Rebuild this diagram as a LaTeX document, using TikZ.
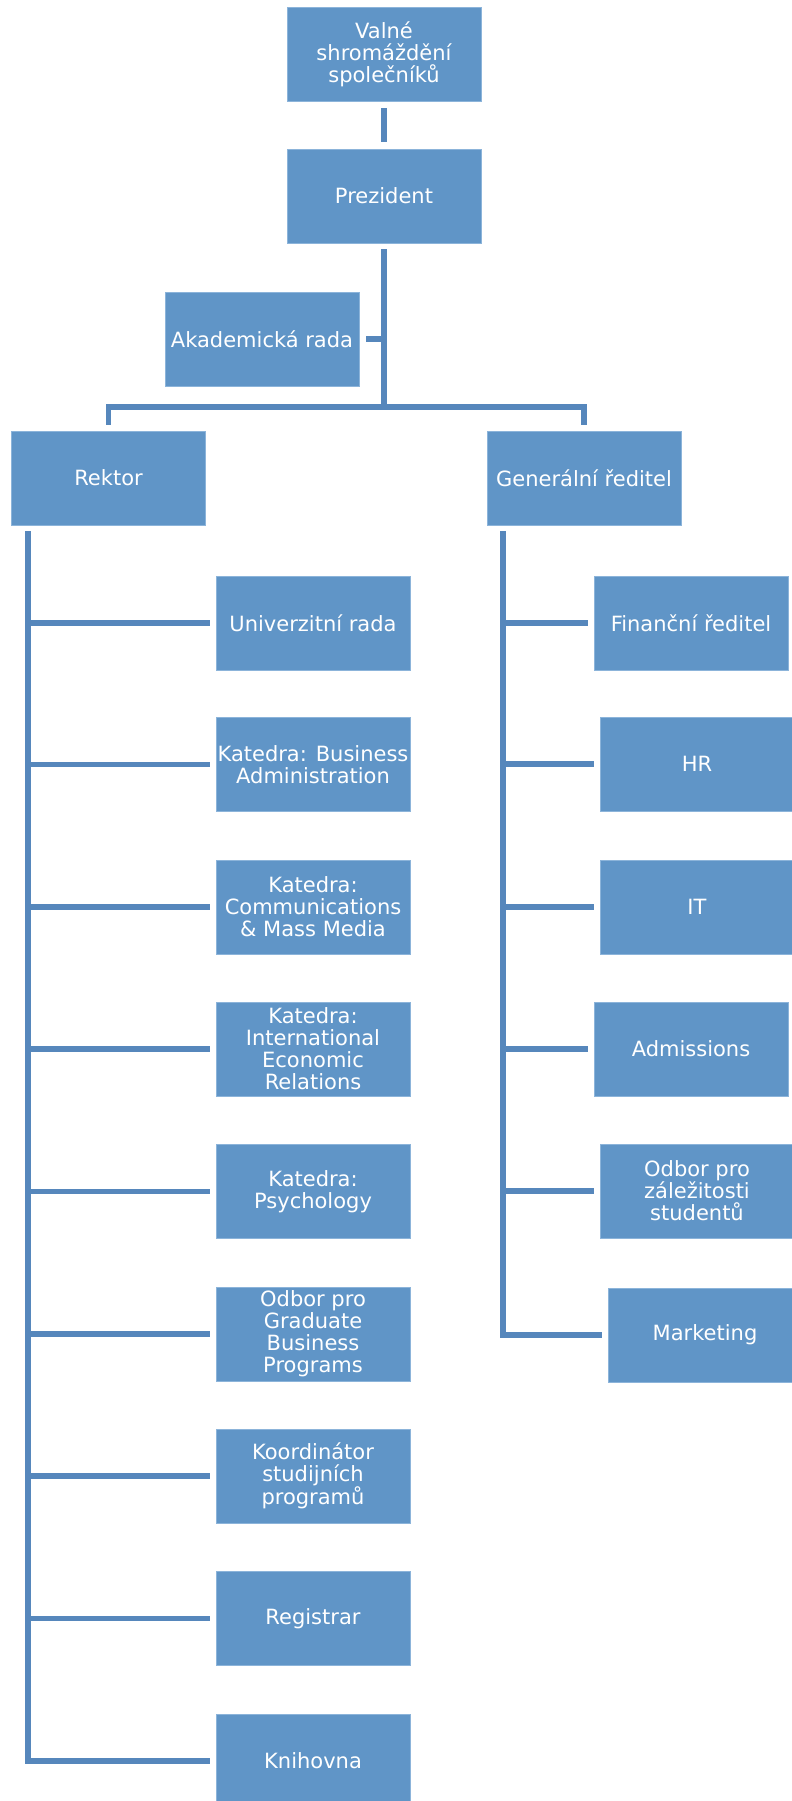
\documentclass[tikz,border=0pt]{standalone}
\usepackage{fontspec}
\setmainfont{DejaVu Sans}
\usepackage{xcolor}
\usepackage{tikz}
\usetikzlibrary{shapes,arrows,positioning,fit}
\definecolor{boxblue}{RGB}{96,149,199}
\definecolor{boxedge}{RGB}{140,180,218}
\definecolor{lineblue}{RGB}{86,135,188}
\tikzstyle{conn} = [draw=lineblue, line width=5.5pt]

\begin{document}
\begin{tikzpicture}[x=1pt,y=-1pt]
    \tikzstyle{unit}=[rectangle, fill=boxblue, draw=boxedge, line width=0.8pt, text=white, minimum width=194pt, minimum height=94pt, inner sep=0pt, align=center, font=\fontsize{21}{22}\selectfont]

    \useasboundingbox[fill=white] (0,0) rectangle (792,1801);

    % top
    \node[unit] (valne) at (384,54) {Valné\\shromáždění\\společníků};
    \node[unit] (prez) at (384,196) {Prezident};
    \node[unit] (akad) at (262,339) {Akademická rada};
    \node[unit] (rektor) at (108.5,478) {Rektor};
    \node[unit] (gen) at (584,478) {Generální ředitel};

    % rektor side
    \node[unit] (univ) at (313,623) {Univerzitní rada};
    \node[unit] (kba) at (313,764.5) {Katedra: Business\\Administration};
    \node[unit] (kcmm) at (313,907) {Katedra:\\Communications\\\& Mass Media};
    \node[unit] (kier) at (313,1049) {Katedra:\\International\\Economic\\Relations};
    \node[unit] (kpsy) at (313,1191.5) {Katedra:\\Psychology};
    \node[unit] (ogbp) at (313,1334) {Odbor pro\\Graduate\\Business\\Programs};
    \node[unit] (koord) at (313,1476) {Koordinátor\\studijních\\programů};
    \node[unit] (reg) at (313,1618.5) {Registrar};
    \node[unit] (knih) at (313,1761) {Knihovna};

    % reditel side
    \node[unit] (fin) at (691,623) {Finanční ředitel};
    \node[unit] (hr) at (697,764) {HR};
    \node[unit] (it) at (697,907) {IT};
    \node[unit] (adm) at (691,1049) {Admissions};
    \node[unit] (ozs) at (697,1191) {Odbor pro\\záležitosti\\studentů};
    \node[unit] (mark) at (705,1335) {Marketing};

    \coordinate (bus) at (384,407);
    \coordinate (ltop) at (28,531);
    \coordinate (rtop) at (503,531);

    \draw[conn, shorten <=7pt, shorten >=7pt] (valne) -- (prez);
    \draw[conn] ([yshift=-6pt]prez.south) -- (bus);
    \draw[conn] ([xshift=7pt]akad.east) -- (akad.east -| bus);
    \draw[conn] ([yshift=6pt]rektor.north) |- (bus) -| ([yshift=6pt]gen.north);

    \draw[conn] (ltop) |- ([xshift=-6pt]knih.west);
    \draw[conn] (ltop |- univ.west) -- ([xshift=-6pt]univ.west);
    \draw[conn] (ltop |- kba.west) -- ([xshift=-6pt]kba.west);
    \draw[conn] (ltop |- kcmm.west) -- ([xshift=-6pt]kcmm.west);
    \draw[conn] (ltop |- kier.west) -- ([xshift=-6pt]kier.west);
    \draw[conn] (ltop |- kpsy.west) -- ([xshift=-6pt]kpsy.west);
    \draw[conn] (ltop |- ogbp.west) -- ([xshift=-6pt]ogbp.west);
    \draw[conn] (ltop |- koord.west) -- ([xshift=-6pt]koord.west);
    \draw[conn] (ltop |- reg.west) -- ([xshift=-6pt]reg.west);

    \draw[conn] (rtop) |- ([xshift=-6pt]mark.west);
    \draw[conn] (rtop |- fin.west) -- ([xshift=-6pt]fin.west);
    \draw[conn] (rtop |- hr.west) -- ([xshift=-6pt]hr.west);
    \draw[conn] (rtop |- it.west) -- ([xshift=-6pt]it.west);
    \draw[conn] (rtop |- adm.west) -- ([xshift=-6pt]adm.west);
    \draw[conn] (rtop |- ozs.west) -- ([xshift=-6pt]ozs.west);
\end{tikzpicture}
\end{document}
